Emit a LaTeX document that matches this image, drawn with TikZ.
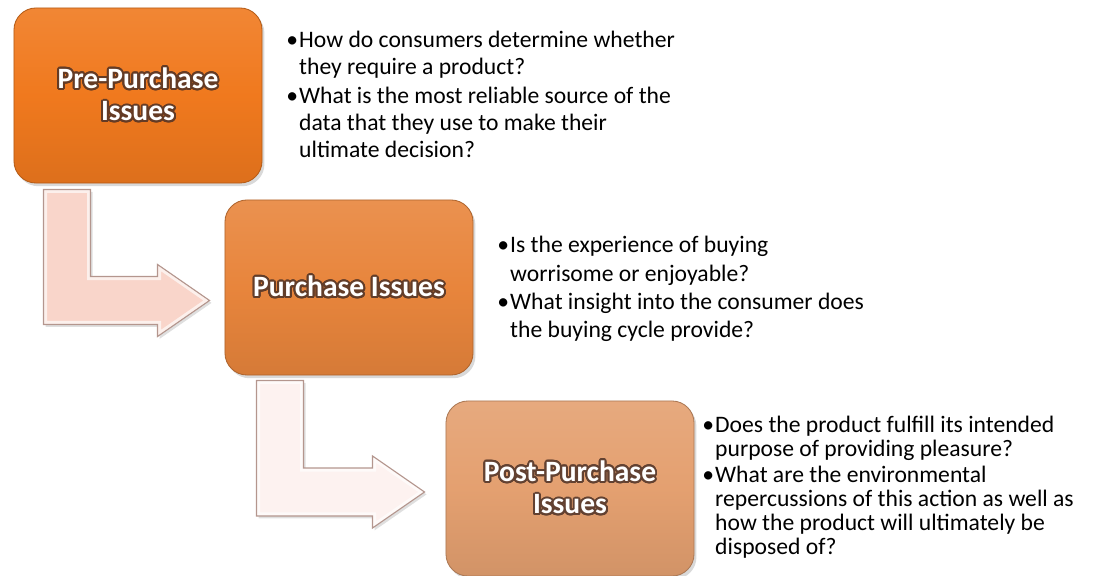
\documentclass[tikz,border=0pt]{standalone}
\usepackage{fontspec}
\setmainfont{Carlito}
\usepackage{contour}
\usepackage{tikz}
\usetikzlibrary{shapes,arrows,positioning,calc,shadows}

\definecolor{preorange}{RGB}{240,121,30}
\definecolor{midorange}{RGB}{232,133,60}
\definecolor{postorange}{RGB}{228,160,112}
\definecolor{pinkarrow}{RGB}{249,213,202}
\definecolor{palearrow}{RGB}{253,242,240}
\definecolor{arrowedge}{RGB}{180,150,142}
\definecolor{glowcol}{RGB}{75,48,38}

% dark halo behind the white box titles
\contourlength{1.4pt}
\contournumber{24}
\newcommand{\glow}[2]{\contour{glowcol!85!#1}{#2}}
\newcommand{\bul}{\makebox[9.2pt][l]{\textbullet}}
\newcommand{\ind}{\hspace*{9.2pt}}
% outline of an elbow arrow, from its stem corner to its tip
\newcommand{\elbowshape}[2]{(#2) -- ++(-52,36) -- ++(0,-12) -| (#1)
    -- ++(47,0) |- ($(#2)+(-52,-24)$) -- ++(0,-12) -- cycle}

\begin{document}
\begin{tikzpicture}[
    x=0.025cm, y=-0.025cm,
    box/.style={rectangle, rounded corners=5.5mm, minimum width=6.2cm, minimum height=4.375cm,
                align=center, text=white, line width=0.6pt,
                font=\fontsize{21}{23}\selectfont\bfseries,
                drop shadow={opacity=0.3, shadow xshift=0.6mm, shadow yshift=-0.8mm}},
    bent/.style={draw=arrowedge, line width=0.8pt, line join=miter},
    bevel/.style={white, opacity=0.65, line width=5pt},
    notes/.style={anchor=north west, inner sep=0pt, align=left,
                  font=\fontsize{16.8}{19.2}\selectfont}
]
\useasboundingbox (0,0) rectangle (1104,576);

% Stage boxes
\node[box, top color=preorange!90!white, bottom color=preorange!92!black,
      middle color=preorange, draw=preorange!75!black] (pre) at (138,95.5)
      {\glow{preorange}{Pre-Purchase}\\\glow{preorange}{Issues}};
\node[box, top color=midorange!90!white, bottom color=midorange!92!black,
      middle color=midorange, draw=midorange!75!black] (purchase) at (349,287.5)
      {\glow{midorange}{Purchase Issues}};
\node[box, top color=postorange!90!white, bottom color=postorange!92!black,
      middle color=postorange, draw=postorange!75!black] (post) at (570,488.5)
      {\glow{postorange}{Post-Purchase}\\\glow{postorange}{Issues}};

% Questions for each stage
\node[notes] (preq) at (286,31) {%
    \bul How do consumers determine whether\\
    \ind they require a product?\\[1pt]
    \bul What is the most reliable source of the\\
    \ind data that they use to make their\\
    \ind ultimate decision?};
\node[notes, font=\fontsize{16.8}{20.2}\selectfont] (purchaseq) at (497,236) {%
    \bul Is the experience of buying\\
    \ind worrisome or enjoyable?\\
    \bul What insight into the consumer does\\
    \ind the buying cycle provide?};
\node[notes, font=\fontsize{16.8}{17.1}\selectfont] (postq) at (702,416) {%
    \bul Does the product fulfill its intended\\
    \ind purpose of providing pleasure?\\[1pt]
    \bul What are the environmental\\
    \ind repercussions of this action as well as\\
    \ind how the product will ultimately be\\
    \ind disposed of?};

% Bent arrows between stages
\coordinate (stemA) at ($(pre.south west)+(30,6)$);
\coordinate (tipA) at ($(purchase.west)+(-15,13)$);
\coordinate (stemB) at ($(purchase.south west)+(32,5)$);
\coordinate (tipB) at ($(post.west)+(-21,3.5)$);

\fill[pinkarrow, drop shadow={opacity=0.25, shadow xshift=0.5mm, shadow yshift=-0.6mm}]
    \elbowshape{stemA}{tipA};
\begin{scope}
    \clip \elbowshape{stemA}{tipA};
    \draw[bevel] \elbowshape{stemA}{tipA};
\end{scope}
\draw[bent] \elbowshape{stemA}{tipA};

\fill[palearrow, drop shadow={opacity=0.25, shadow xshift=0.5mm, shadow yshift=-0.6mm}]
    \elbowshape{stemB}{tipB};
\begin{scope}
    \clip \elbowshape{stemB}{tipB};
    \draw[bevel] \elbowshape{stemB}{tipB};
\end{scope}
\draw[bent] \elbowshape{stemB}{tipB};

\end{tikzpicture}
\end{document}
